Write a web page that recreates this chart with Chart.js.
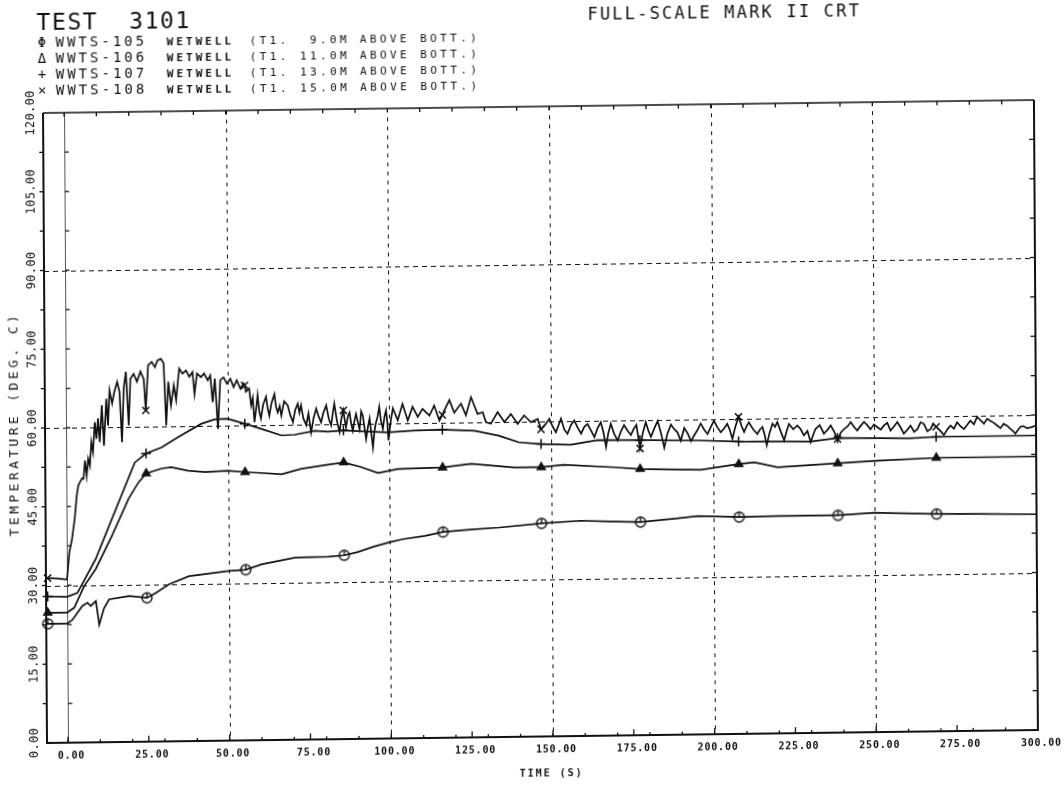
<!DOCTYPE html>
<html>
<head>
<meta charset="utf-8">
<title>TEST 3101 - wetwell temperatures</title>
<script src="https://cdn.jsdelivr.net/npm/chart.js@4.4.1/dist/chart.umd.min.js"></script>
<style>
  html, body { margin: 0; padding: 0; background: #fff; overflow: hidden; }
  /* the plotter sheet sits a little askew on the page */
  #sheet {
    position: relative; width: 1064px; height: 789px;
    transform-origin: 47px 743px;
    transform: matrix(1, -0.0131, 0.0063, 1, 0, 0);
  }
  #plot { position: absolute; left: 0; top: 0; }
  .t { position: absolute; font-family: "DejaVu Sans Mono", monospace; color: #111; white-space: pre; line-height: 1; }
  .big { font-size: 23px; letter-spacing: 1.6px; }
  .head { font-size: 17px; letter-spacing: 2.2px; }
  .tag { font-size: 14px; letter-spacing: 3px; }
  .loc { font-size: 11px; letter-spacing: 3px; font-weight: bold; }
  .note { font-size: 11px; letter-spacing: 3.4px; }
  .sym { font-size: 14px; }
</style>
</head>
<body>
<div id="sheet">
  <canvas id="plot" width="1064" height="789"></canvas>
  <div class="t big" style="left:41px; top:11px;">TEST  3101</div>
  <div class="t head" style="left:592px; top:13px;">FULL-SCALE MARK II CRT</div>
  <div id="legend"></div>
</div>
<script>
// time (s) of the symbol marks, common to all four traces
const MARK_T = [-6, 24.7, 55.3, 85.8, 116.4, 146.9, 177.5, 208, 238.6, 269.1];

const X_TICKS = [0, 25, 50, 75, 100, 125, 150, 175, 200, 225, 250, 275, 300];
const Y_TICKS = [0, 15, 30, 45, 60, 75, 90, 105, 120];
const X_GRID = [50, 100, 150, 200, 250];
const Y_GRID = [30, 60, 90];

const SERIES_NAMES = ['WWTS-105', 'WWTS-106', 'WWTS-107', 'WWTS-108'];
const SERIES_NOTES = [
  '(T1.  9.0M ABOVE BOTT.)',
  '(T1. 11.0M ABOVE BOTT.)',
  '(T1. 13.0M ABOVE BOTT.)',
  '(T1. 15.0M ABOVE BOTT.)',
];

// [time s, temperature deg C]
const WWTS_105 = [
  [-6.5, 22.7], [-6, 22.7], [0, 22.7], [1.6, 23.4], [4.7, 26.0], [6.3, 26.6], [7.3, 26.0],
  [8.9, 26.9], [9.9, 22.4], [11.4, 25.5], [13, 27.2], [19.2, 27.8], [24.7, 27.4], [27.4, 28.3],
  [31.5, 29.9], [37.7, 31.4], [50, 32.3], [55.3, 32.5], [60.3, 33.5], [70.6, 34.7], [81, 34.8],
  [85.8, 35.0], [90, 35.6], [95, 36.6], [100, 37.4], [103.7, 37.9], [110.8, 38.5], [116.4, 39.2],
  [125, 39.6], [133.8, 39.9], [146.9, 40.6], [159.2, 41.0], [168, 40.8], [177.5, 40.6], [189, 41.2],
  [195.2, 41.6], [208, 41.3], [220, 41.4], [238.6, 41.4], [249.8, 41.8], [269.1, 41.4], [281.7, 41.3],
  [300, 41.1],
];

const WWTS_106 = [
  [-6.5, 24.8], [-6, 24.8], [0, 24.8], [2.2, 25.7], [5.3, 29.8], [8.9, 33.0], [14, 39.3],
  [19.2, 46.3], [22.3, 49.4], [24.7, 51.1], [29.5, 52.0], [32.5, 52.2], [37.7, 51.5], [42.9, 51.2],
  [50, 51.4], [55.3, 51.1], [60, 50.9], [66.6, 50.6], [72.7, 51.6], [81, 52.3], [85.8, 52.7],
  [91, 51.8], [96.4, 50.6], [102.6, 51.3], [116.4, 51.5], [125.2, 52.1], [138.6, 51.3], [146.9, 51.3],
  [154, 51.7], [169.5, 51.1], [177.5, 50.7], [196.3, 50.4], [208, 51.4], [212.8, 51.7], [220, 50.7],
  [238.6, 51.3], [250.8, 51.7], [269.1, 52.1], [300, 52.1],
];

const WWTS_107 = [
  [-6.5, 27.9], [-6, 27.9], [0, 27.8], [3.2, 28.5], [8.9, 34.9], [14, 42.5], [21.2, 53.2],
  [24.7, 54.9], [29.5, 56.0], [34.6, 57.9], [41.8, 60.4], [45.9, 61.2], [50, 61.3], [55.3, 60.3],
  [60.3, 59.3], [66.6, 58.0], [70.7, 58.1], [76.9, 58.8], [81, 58.6], [85.8, 58.8], [99.5, 58.3],
  [107.8, 58.6], [116.4, 58.7], [126.3, 58.4], [133.8, 57.4], [140, 56.1], [146.9, 55.7], [156.1, 55.5],
  [164.3, 56.3], [177.5, 56.2], [195.2, 56.0], [208, 55.7], [230.2, 55.5], [238.6, 56.1], [261.1, 55.9],
  [269.1, 56.1], [300, 56.1],
];

const WWTS_108 = [
  [-6.5, 31.4], [-6, 31.4], [-3, 31.3], [0, 31.1], [0.8, 36.3], [1.6, 38.6], [2.5, 42.6], [3.2, 47.1],
  [3.7, 49.0], [4.8, 50.3], [5.3, 50.2], [5.8, 53.7], [6.3, 50.8], [6.8, 54.0], [7.3, 52.7], [7.8, 57.2],
  [8.3, 55.3], [8.9, 61.0], [9.4, 57.8], [9.9, 61.7], [10.4, 57.2], [11.1, 64.2], [11.7, 56.5], [12.5, 65.4],
  [13, 60.3], [13.5, 67.0], [14.3, 64.5], [15, 66.7], [15.9, 68.6], [16.6, 66.7], [17.3, 57.1], [17.9, 67.3],
  [18.6, 70.5], [19.4, 60.3], [20, 69.2], [21, 70.1], [22, 68.6], [23.1, 70.5], [24.1, 69.1], [24.7, 63.1],
  [25.5, 71.7], [26.6, 72.3], [27.6, 71.3], [28.4, 72.6], [29.5, 72.9], [30.3, 72.0], [31, 60.2], [31.7, 68.5],
  [32.5, 64.0], [33.4, 67.8], [34.1, 65.0], [35.1, 71.0], [36.1, 70.0], [37.2, 70.6], [38.2, 69.4], [39.2, 70.3],
  [39.8, 66.1], [40.6, 70.0], [41.8, 69.3], [42.8, 70.0], [43.9, 68.7], [44.7, 69.6], [45.4, 64.5], [46.1, 69.0],
  [47, 59.4], [47.8, 68.7], [48.8, 69.2], [49.8, 68.0], [50.9, 68.9], [51.9, 67.3], [52.9, 68.6], [54, 67.0],
  [55, 68.0], [55.3, 67.6], [55.7, 66.4], [56.7, 67.0], [57.3, 63.8], [57.8, 65.2], [58.3, 60.6], [58.8, 63.0],
  [59.3, 65.7], [59.8, 62.6], [60.3, 61.3], [61, 63.9], [61.9, 65.4], [62.4, 63.2], [62.9, 61.8], [63.6, 64.2],
  [64.5, 65.9], [65, 63.4], [65.5, 62.4], [66.1, 63.6], [66.6, 61.8], [67.5, 64.5], [68.6, 63.7], [69.3, 62.0],
  [70.2, 60.5], [70.9, 62.8], [71.7, 64.0], [72.2, 62.3], [72.7, 63.7], [73.4, 61.2], [74.3, 59.9], [75, 62.1],
  [75.8, 58.5], [76.6, 61.3], [77.4, 63.0], [78.1, 61.6], [78.9, 60.4], [79.6, 62.2], [80.5, 63.6], [81.3, 61.0],
  [82, 59.8], [82.5, 62.0], [83, 63.9], [83.8, 60.6], [84.6, 58.5], [85.2, 61.1], [85.8, 62.6], [86.2, 60.8],
  [86.6, 59.4], [87.2, 61.5], [87.7, 62.2], [88.2, 60.1], [88.7, 58.7], [89.2, 60.6], [89.7, 61.9], [90.3, 60.2],
  [90.8, 59.0], [91.3, 62.4], [91.8, 61.6], [92.3, 59.3], [92.8, 57.1], [93.4, 59.5], [93.9, 61.0], [94.4, 58.2],
  [94.9, 55.5], [95.4, 58.6], [95.9, 60.3], [96.4, 61.4], [96.9, 63.2], [97.4, 60.6], [98, 59.0], [98.5, 61.3],
  [99, 62.5], [99.4, 60.0], [99.7, 56.8], [100.4, 60.3], [101.1, 62.9], [102.6, 60.6], [104.1, 63.7], [105.7, 60.5],
  [107.2, 63.1], [108.8, 61.2], [110.3, 62.7], [112.4, 61.4], [113.9, 63.3], [115.5, 60.4], [116.4, 61.5], [117, 62.3],
  [118.6, 64.3], [120.1, 61.9], [122.2, 63.6], [123.7, 61.4], [125.3, 64.8], [127.3, 61.6], [128.9, 61.9], [129.9, 60.0],
  [131.4, 59.7], [133.5, 61.9], [135.6, 60.0], [137.6, 61.5], [139.7, 59.6], [141.7, 61.2], [143.8, 59.9], [145.9, 60.5],
  [146.9, 58.5], [148.2, 59.4], [149.5, 60.5], [150.5, 59.0], [151.5, 57.9], [152.3, 59.2], [153.1, 60.5], [154.1, 58.4],
  [155.1, 57.6], [156.2, 59.3], [157.2, 60.1], [158.2, 58.8], [159.3, 57.6], [160.3, 58.9], [161.3, 59.4], [162.4, 58.1],
  [163.4, 56.9], [164.4, 58.6], [165.4, 59.7], [166.2, 57.8], [167, 55.0], [167.7, 57.6], [168.5, 59.4], [169.5, 57.5],
  [170.6, 56.2], [171.6, 57.9], [172.6, 59.1], [173.7, 58.0], [174.7, 57.2], [175.6, 58.4], [176.4, 59.1], [177.5, 54.6],
  [178.4, 57.6], [179.3, 59.6], [180.1, 58.0], [180.9, 56.8], [182, 58.5], [183, 59.8], [184, 57.5], [185, 54.7],
  [186, 57.4], [187.1, 59.1], [188.1, 58.2], [189.1, 57.6], [190.1, 56.0], [191.2, 58.4], [192.3, 57.3], [193.3, 55.9],
  [194.3, 57.0], [195.3, 58.0], [196.3, 59.2], [197.4, 58.0], [198.4, 57.2], [199.4, 58.5], [200.4, 59.7], [201.5, 58.4],
  [202.5, 57.5], [203.5, 58.2], [204.5, 59.1], [205.3, 57.9], [206.1, 56.2], [207, 58.5], [208, 60.4], [208.9, 58.7],
  [209.7, 57.5], [210.5, 58.6], [211.2, 59.3], [212.5, 58.0], [213.8, 57.1], [214.6, 57.9], [215.4, 58.4], [216.1, 56.8],
  [216.7, 54.9], [217.6, 57.3], [218.5, 59.0], [219.3, 58.4], [220, 59.3], [221.1, 57.4], [222.1, 55.8], [222.9, 57.6],
  [223.6, 58.9], [224.9, 57.9], [226.2, 58.6], [227.2, 57.9], [228.2, 56.7], [229.3, 57.5], [230.3, 55.4], [231.1, 56.8],
  [231.8, 57.9], [233.1, 58.6], [234.4, 57.0], [235.5, 57.7], [236.5, 58.5], [237.6, 57.3], [238.6, 55.9], [239.6, 57.1],
  [240.6, 57.8], [241.7, 58.3], [242.7, 59.1], [243.7, 58.2], [244.7, 57.5], [245.8, 58.4], [246.8, 59.1], [247.8, 58.5],
  [248.8, 57.7], [249.9, 58.6], [250.9, 58.1], [252, 57.6], [253, 58.4], [254, 58.9], [255, 57.4], [256.1, 58.2],
  [257.1, 59.0], [258.1, 58.0], [259.1, 56.8], [260.2, 57.5], [261.2, 58.3], [262.3, 57.1], [263.3, 57.6], [264.3, 58.9],
  [265.3, 58.6], [266.4, 57.2], [267.4, 57.6], [268.2, 58.6], [269.1, 58.0], [270.3, 57.3], [271.5, 56.4], [272.6, 57.5],
  [273.6, 58.2], [274.6, 57.6], [275.6, 58.8], [276.7, 58.0], [277.7, 57.5], [278.7, 58.3], [279.7, 59.1], [280.8, 58.4],
  [281.8, 59.8], [282.9, 59.1], [283.9, 58.5], [284.9, 59.4], [285.9, 59.0], [287, 58.6], [288, 58.1], [289, 57.6],
  [290, 58.4], [291.1, 58.0], [292.1, 57.4], [292.9, 57.0], [293.6, 56.5], [294.4, 57.2], [295.2, 57.8], [296.2, 57.9],
  [297.2, 57.5], [298.6, 57.7], [300, 58.0],
];

const FONT = '"DejaVu Sans Mono", monospace';
const INK = '#111';

// circle with a stroke from the top down to its centre
function circleTick() {
  const c = document.createElement('canvas');
  c.width = 14; c.height = 14;
  const g = c.getContext('2d');
  g.strokeStyle = INK; g.lineWidth = 1.4;
  g.beginPath(); g.arc(7, 7, 5, 0, Math.PI * 2); g.stroke();
  g.beginPath(); g.moveTo(7, 2); g.lineTo(7, 7); g.stroke();
  return c;
}

const isMark = (ctx) => ctx.raw && MARK_T.includes(ctx.raw.x);

function trace(label, pairs, style, radius, lineWidth) {
  return {
    label,
    data: pairs.map(([x, y]) => ({ x, y })),
    showLine: true,
    borderColor: INK,
    borderWidth: lineWidth,
    backgroundColor: INK,
    pointStyle: style,
    pointRadius: (ctx) => (isMark(ctx) ? radius : 0),
    pointBorderWidth: 1.5,
    pointBorderColor: INK,
    pointBackgroundColor: INK,
    tension: 0,
    clip: 10,
  };
}

function spacedText(ctx, str, x, y, spacing) {
  if ('letterSpacing' in ctx) {
    ctx.letterSpacing = spacing + 'px';
    ctx.fillText(str, x + spacing / 2, y);
    ctx.letterSpacing = '0px';
  } else {
    ctx.fillText(str, x, y);
  }
}

const plotterFrame = {
  id: 'plotterFrame',
  beforeDatasetsDraw(chart) {
    const { ctx, chartArea: a, scales: { x, y } } = chart;
    const seg = (x1, y1, x2, y2) => { ctx.beginPath(); ctx.moveTo(x1, y1); ctx.lineTo(x2, y2); ctx.stroke(); };
    ctx.save();
    ctx.strokeStyle = INK;

    // dashed grid
    ctx.lineWidth = 1.2;
    ctx.setLineDash([5, 4]);
    Y_GRID.forEach((v) => { const py = Math.round(y.getPixelForValue(v)) + 0.5; seg(a.left, py, a.right, py); });
    ctx.lineWidth = 1;
    ctx.setLineDash([4, 5]);
    X_GRID.forEach((v) => { const px = Math.round(x.getPixelForValue(v)) + 0.5; seg(px, a.top, px, a.bottom); });
    ctx.setLineDash([]);

    // time-zero line
    const x0 = Math.round(x.getPixelForValue(0)) + 0.5;
    ctx.strokeStyle = '#555';
    ctx.lineWidth = 1;
    seg(x0, a.top, x0, a.bottom);
    ctx.strokeStyle = INK;

    // frame
    ctx.lineWidth = 2;
    seg(a.left, a.top, a.left, a.bottom + 1);
    seg(a.left, a.bottom, a.right + 1, a.bottom);
    seg(a.right, a.top, a.right, a.bottom);
    ctx.lineWidth = 1.6;
    seg(a.left, a.top, a.right, a.top);

    // tick marks
    ctx.lineWidth = 1.3;
    for (let v = 7.5; v < 120; v += 7.5) {
      const py = y.getPixelForValue(v);
      seg(a.left - 4, py, a.left, py);
      seg(x0, py, x0 + 4, py);
      seg(a.right - 5, py, a.right, py);
    }
    for (let t = 0; t < 300; t += 10) {
      const px = x.getPixelForValue(t);
      seg(px, a.top, px, a.top + 4);
      seg(px, a.bottom, px, a.bottom - 3);
    }
    X_TICKS.forEach((t) => { const px = x.getPixelForValue(t); seg(px, a.bottom, px, a.bottom - 6); });
    ctx.restore();
  },
  afterDraw(chart) {
    const { ctx, chartArea: a, scales: { x, y } } = chart;
    ctx.save();
    ctx.fillStyle = INK;
    ctx.textAlign = 'center';
    ctx.textBaseline = 'middle';

    ctx.font = 'bold 10px ' + FONT;
    X_TICKS.forEach((t) => spacedText(ctx, t.toFixed(2), x.getPixelForValue(t) + 3, a.bottom + 13, 0.8));
    spacedText(ctx, 'TIME (S)', (a.left + a.right) / 2 + 8, a.bottom + 37, 2);

    ctx.font = '12px ' + FONT;
    Y_TICKS.forEach((v) => {
      ctx.save();
      ctx.translate(35, y.getPixelForValue(v));
      ctx.rotate(-Math.PI / 2);
      spacedText(ctx, v.toFixed(2), 0, 0, 0.3);
      ctx.restore();
    });
    ctx.font = '13px ' + FONT;
    ctx.save();
    ctx.translate(17, y.getPixelForValue(60.5));
    ctx.rotate(-Math.PI / 2);
    spacedText(ctx, 'TEMPERATURE (DEG. C)', 0, 0, 3.4);
    ctx.restore();
    ctx.restore();
  },
};

// key in the top-left corner
const legendSymbols = ['\u03A6', '\u0394', '+', '\u00D7'];
const legendBox = document.getElementById('legend');
SERIES_NAMES.forEach((name, i) => {
  const base = 47 + i * 16;
  const add = (cls, text, left, size) => {
    const d = document.createElement('div');
    d.className = 't ' + cls;
    d.textContent = text;
    d.style.left = left + 'px';
    d.style.top = (base - 0.846 * size) + 'px';
    legendBox.appendChild(d);
  };
  add('sym', legendSymbols[i], 42, 14);
  add('tag', name, 60, 14);
  add('loc', 'WETWELL', 171, 11);
  add('note', SERIES_NOTES[i], 254, 11);
});

new Chart(document.getElementById('plot'), {
  type: 'scatter',
  data: {
    datasets: [
      trace(SERIES_NAMES[0], WWTS_105, circleTick(), 6, 1.7),
      trace(SERIES_NAMES[1], WWTS_106, 'triangle', 4.5, 1.7),
      trace(SERIES_NAMES[2], WWTS_107, 'cross', 5, 1.7),
      trace(SERIES_NAMES[3], WWTS_108, 'crossRot', 5, 1.7),
    ],
  },
  options: {
    responsive: false,
    animation: false,
    devicePixelRatio: 1,
    events: [],
    layout: { padding: { left: 47, right: 26, top: 113, bottom: 46 } },
    plugins: { legend: { display: false }, tooltip: { enabled: false } },
    scales: {
      x: { type: 'linear', min: -6.5, max: 300, display: false },
      y: { type: 'linear', min: 0, max: 120, display: false },
    },
  },
  plugins: [plotterFrame],
});
</script>
</body>
</html>
